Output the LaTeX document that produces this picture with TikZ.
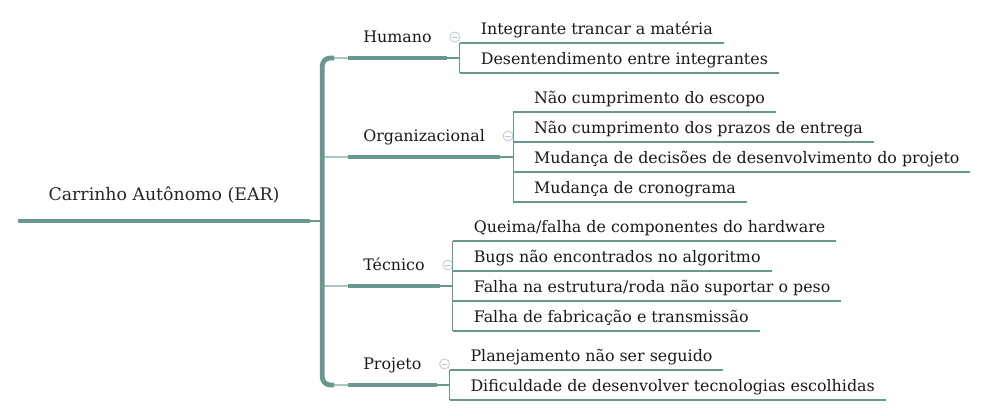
\documentclass[tikz,border=0pt]{standalone}
\usepackage{fontspec}
\setmainfont{DejaVu Serif}
\usetikzlibrary{calc}
\definecolor{ramo}{RGB}{106,152,143}
\definecolor{ramoclaro}{RGB}{170,198,192}
\definecolor{icone}{RGB}{188,198,214}

\tikzset{
  raiz/.style={anchor=south, minimum width=219pt, inner sep=0pt, text depth=15pt, font=\fontsize{13}{15}\selectfont, text=black!85},
  topico/.style={anchor=south west, inner xsep=11.25pt, inner ysep=0pt, text depth=11.25pt, font=\fontsize{11.9}{14}\selectfont, text=black!90},
  folha/.style={anchor=south west, inner xsep=8pt, inner ysep=0pt, text depth=6pt, font=\fontsize{11.9}{14}\selectfont, text=black!90},
  grosso/.style={draw=ramo, line width=3pt},
  fino/.style={draw=ramo, line width=0.8pt},
  claro/.style={draw=ramoclaro, line width=1.3pt},
  menos/.style={circle, draw=icone, line width=0.6pt, inner sep=0pt, minimum size=7.5pt,
    path picture={\draw[icone, line width=0.6pt] ([xshift=-2pt]path picture bounding box.center) -- ([xshift=2pt]path picture bounding box.center);}}
}

\begin{document}
\begin{tikzpicture}[x=0.75pt, y=-0.75pt]
  \path (0,0) rectangle (982,416);

  % raiz e tronco
  \node[raiz] (raiz) at (164,221) {Carrinho Autônomo (EAR)};
  \draw[grosso, line width=3.6pt] (raiz.south west) -- (raiz.south east);

  \node[topico] (hum) at (348,58) {Humano};
  \node[topico] (org) at (348,157) {Organizacional};
  \node[topico] (tec) at (348,286) {Técnico};
  \node[topico] (proj) at (348,385) {Projeto};

  \draw[fino] (raiz.south east) -- ++(12,0) coordinate (tronco);
  \draw[claro] ($(hum.south west)+(-18,0)$) -- (hum.south west);
  \draw[claro] ($(org.south west)+(-24,0)$) -- (org.south west);
  \draw[claro] ($(tec.south west)+(-24,0)$) -- (tec.south west);
  \draw[claro] ($(proj.south west)+(-18,0)$) -- (proj.south west);
  \draw[grosso, line width=3.6pt, rounded corners=6pt] ($(hum.south west)+(-14,0)$) -| (tronco) |- ($(proj.south west)+(-14,0)$);

  % topicos
  \foreach \t in {hum,org,tec,proj} {
    \draw[grosso] (\t.south west) -- (\t.south east);
    \draw[fino] (\t.south east) -- ++(13,0) coordinate (\t-b);
    \node[menos] (\t-ic) at ($(\t.south east)+(8,-21)$) {};
  }

  % folhas
  \foreach \txt [count=\i] in {Integrante trancar a matéria, Desentendimento entre integrantes} {
    \node[folha] (hum-\i) at ($(hum-b)+(10,30*\i-45)$) {\txt};
    \draw[fino] (hum-\i.south west -| hum-b) -- (hum-\i.south east);
  }
  \draw[fino] (hum-1.south -| hum-b) -- (hum-2.south -| hum-b);

  \foreach \txt [count=\i] in {Não cumprimento do escopo, Não cumprimento dos prazos de entrega, Mudança de decisões de desenvolvimento do projeto, Mudança de cronograma} {
    \node[folha] (org-\i) at ($(org-b)+(10,30*\i-75)$) {\txt};
    \draw[fino] (org-\i.south west -| org-b) -- (org-\i.south east);
  }
  \draw[fino] (org-1.south -| org-b) -- (org-4.south -| org-b);

  \foreach \txt [count=\i] in {Queima/falha de componentes do hardware, Bugs não encontrados no algoritmo, Falha na estrutura/roda não suportar o peso, Falha de fabricação e transmissão} {
    \node[folha] (tec-\i) at ($(tec-b)+(10,30*\i-75)$) {\txt};
    \draw[fino] (tec-\i.south west -| tec-b) -- (tec-\i.south east);
  }
  \draw[fino] (tec-1.south -| tec-b) -- (tec-4.south -| tec-b);

  \foreach \txt [count=\i] in {Planejamento não ser seguido, Dificuldade de desenvolver tecnologias escolhidas} {
    \node[folha] (proj-\i) at ($(proj-b)+(10,30*\i-45)$) {\txt};
    \draw[fino] (proj-\i.south west -| proj-b) -- (proj-\i.south east);
  }
  \draw[fino] (proj-1.south -| proj-b) -- (proj-2.south -| proj-b);
\end{tikzpicture}
\end{document}
